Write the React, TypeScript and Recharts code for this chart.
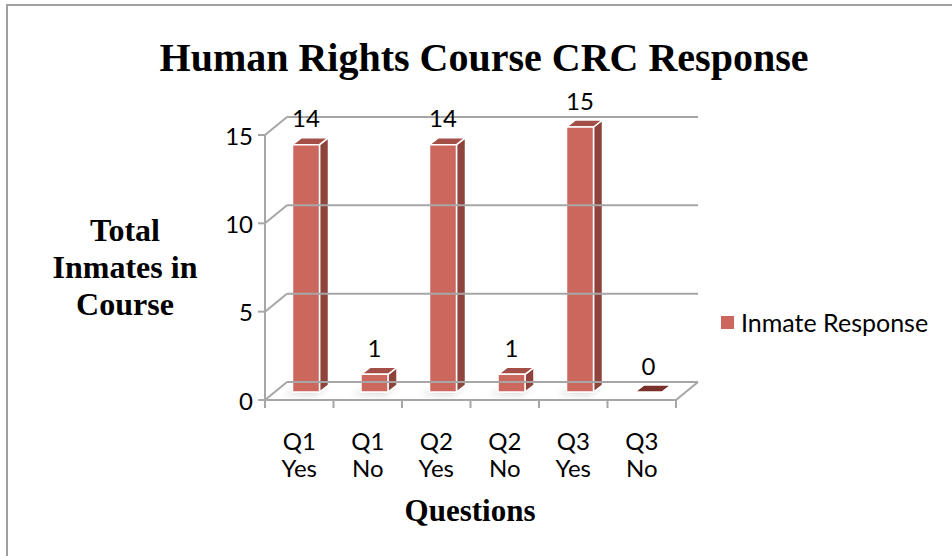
import React from "react";
import { BarChart, Bar, XAxis, YAxis, LabelList } from "recharts";

// values
const questions = ["Q1 Yes", "Q1 No", "Q2 Yes", "Q2 No", "Q3 Yes", "Q3 No"];
const inmateResponse = [14, 1, 14, 1, 15, 0];
const yTicks = [0, 5, 10, 15];

const data = questions.map((q, i) => ({ name: q, value: inmateResponse[i] }));

const W = 952;
const H = 556;
// plot area = the middle depth plane of the fake 3D box
const PLOT = { left: 276, right: 687, top: 127, bottom: 392 };
const FRONT = { dx: -11, dy: 8 };
const BACK = { dx: 11, dy: -10 };
const DEPTH = { dx: 9, dy: -7 };
const SHIFT = -4.5;
const GRID = "#a6a6a6";
const SANS = "Lato, 'Open Sans', sans-serif";
const SERIF = "'Liberation Serif', 'Times New Roman', serif";
const FS = 24;

const C_FRONT = "#cc675e";
const C_SIDE = "#8e433b";
const C_TOP = "#a34e46";
const C_FLAT = "#7a302b";

const YTick = (props: any) => {
  const { y, payload } = props;
  const v = payload.value;
  const fx = PLOT.left + FRONT.dx;
  const fy = y + FRONT.dy;
  const bx = PLOT.left + BACK.dx;
  const by = y + BACK.dy;
  const step = (PLOT.bottom - PLOT.top) / (yTicks.length - 1);
  const ln = { stroke: GRID, strokeWidth: 2 };
  return (
    <g>
      <line x1={bx} y1={by} x2={PLOT.right + BACK.dx} y2={by} {...ln} />
      <line x1={fx} y1={fy} x2={bx} y2={by} {...ln} />
      <line x1={fx - 7} y1={fy} x2={fx} y2={fy} {...ln} />
      {v > 0 && <line x1={fx} y1={fy} x2={fx} y2={fy + step} {...ln} />}
      {v === 0 && (
        <>
          <line x1={fx} y1={fy} x2={PLOT.right + FRONT.dx} y2={fy} {...ln} />
          <line
            x1={PLOT.right + FRONT.dx}
            y1={fy}
            x2={PLOT.right + BACK.dx}
            y2={by}
            {...ln}
          />
        </>
      )}
      <text
        x={fx - 12}
        y={fy}
        textAnchor="end"
        dominantBaseline="central"
        fontFamily={SANS}
        fontSize={FS}
        fill="#000"
      >
        {v}
      </text>
    </g>
  );
};

const XTick = (props: any) => {
  const { x, y, payload, index } = props;
  const band = (PLOT.right - PLOT.left) / questions.length;
  const fx = x + FRONT.dx;
  const fy = y + FRONT.dy;
  const [a, b] = String(payload.value).split(" ");
  const ln = { stroke: GRID, strokeWidth: 2 };
  return (
    <g>
      <line x1={fx - band / 2} y1={fy} x2={fx - band / 2} y2={fy + 8} {...ln} />
      {index === questions.length - 1 && (
        <line x1={fx + band / 2} y1={fy} x2={fx + band / 2} y2={fy + 8} {...ln} />
      )}
      <text x={fx} y={fy + 40} textAnchor="middle" dominantBaseline="central" fontFamily={SANS} fontSize={FS} fill="#000">
        {a}
      </text>
      <text x={fx} y={fy + 67} textAnchor="middle" dominantBaseline="central" fontFamily={SANS} fontSize={FS} fill="#000">
        {b}
      </text>
    </g>
  );
};

const Box3D = (props: any) => {
  const { x, y, width, height, index } = props;
  const fx = x + SHIFT;
  const w = width;
  const h = Math.max(0, height);
  const { dx, dy } = DEPTH;
  const edge = { stroke: "#fff", strokeWidth: 1.5, strokeLinejoin: "round" as const };
  const base = y + h;
  if (h < 1) {
    return (
      <g>
        <polygon
          points={`${fx},${base} ${fx + dx},${base + dy} ${fx + w + dx},${base + dy} ${fx + w},${base}`}
          fill={C_FLAT}
          {...edge}
        />
      </g>
    );
  }
  return (
    <g>
      <defs>
        <filter id={`shadow-${index}`} x="-50%" y="-50%" width="200%" height="200%">
          <feGaussianBlur stdDeviation="3" />
        </filter>
      </defs>
      <polygon
        points={`${fx - 10},${base + 3} ${fx + dx},${base + dy + 2} ${fx + w + dx},${base + dy + 2} ${fx + w - 4},${base + 4}`}
        fill="#000"
        opacity={0.12}
        filter={`url(#shadow-${index})`}
      />
      <polygon
        points={`${fx + w},${y} ${fx + w + dx},${y + dy} ${fx + w + dx},${base + dy} ${fx + w},${base}`}
        fill={C_SIDE}
        {...edge}
      />
      <polygon
        points={`${fx},${y} ${fx + dx},${y + dy} ${fx + w + dx},${y + dy} ${fx + w},${y}`}
        fill={C_TOP}
        {...edge}
      />
      <rect x={fx} y={y} width={w} height={h} fill={C_FRONT} {...edge} />
    </g>
  );
};

const ValueLabel = (props: any) => {
  const { x, y, width, value } = props;
  return (
    <text
      x={x + SHIFT + width / 2}
      y={y - 27}
      textAnchor="middle"
      dominantBaseline="central"
      fontFamily={SANS}
      fontSize={FS}
      fill="#000"
    >
      {value}
    </text>
  );
};

export default function App() {
  const yAxisWidth = 60;
  return (
    <div style={{ position: "absolute", left: 0, top: 0, width: W, height: H, background: "#fff", overflow: "hidden" }}>
      {/* outer frame */}
      <div style={{ position: "absolute", left: 6, top: 4, width: W, height: H, borderLeft: "2px solid #a0a0a0", borderTop: "2px solid #a0a0a0" }} />

      <BarChart
        width={W}
        height={H}
        data={data}
        margin={{ top: PLOT.top, right: W - PLOT.right, bottom: 0, left: PLOT.left - yAxisWidth }}
      >
        <YAxis
          type="number"
          domain={[0, 15]}
          ticks={yTicks}
          width={yAxisWidth}
          axisLine={false}
          tickLine={false}
          tickSize={0}
          tickMargin={0}
          tick={<YTick />}
          interval={0}
        />
        <XAxis
          dataKey="name"
          height={H - PLOT.bottom}
          axisLine={false}
          tickLine={false}
          tickSize={0}
          tickMargin={0}
          tick={<XTick />}
          interval={0}
        />
        <Bar dataKey="value" barSize={27} shape={<Box3D />} isAnimationActive={false}>
          <LabelList dataKey="value" content={<ValueLabel />} />
        </Bar>
      </BarChart>

      <div
        style={{
          position: "absolute",
          left: 0,
          width: 968,
          top: 34,
          textAlign: "center",
          fontFamily: SERIF,
          fontWeight: "bold",
          fontSize: 40,
          lineHeight: "48px",
          color: "#000",
        }}
      >
        Human Rights Course CRC Response
      </div>

      <div
        style={{
          position: "absolute",
          left: 25,
          width: 200,
          top: 212,
          textAlign: "center",
          fontFamily: SERIF,
          fontWeight: "bold",
          fontSize: 32,
          lineHeight: "37px",
          color: "#000",
        }}
      >
        Total
        <br />
        Inmates in
        <br />
        Course
      </div>

      <div
        style={{
          position: "absolute",
          left: 370,
          width: 200,
          top: 492,
          textAlign: "center",
          fontFamily: SERIF,
          fontWeight: "bold",
          fontSize: 31,
          lineHeight: "38px",
          color: "#000",
        }}
      >
        Questions
      </div>

      <div style={{ position: "absolute", left: 721, top: 307, display: "flex", alignItems: "center", fontFamily: SANS, fontSize: 25, color: "#000", whiteSpace: "nowrap" }}>
        <span style={{ display: "inline-block", width: 13, height: 13, background: C_FRONT, marginRight: 7 }} />
        Inmate Response
      </div>
    </div>
  );
}
